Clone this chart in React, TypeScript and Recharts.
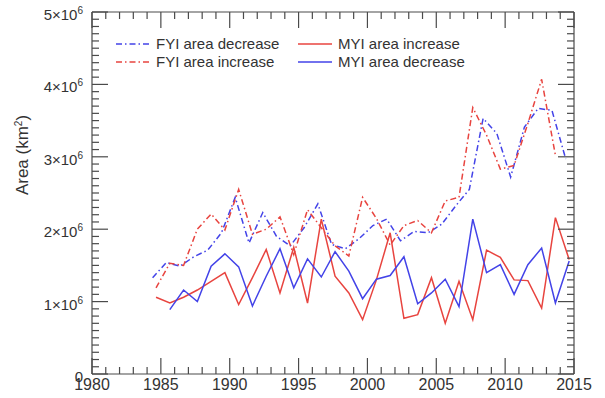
import React from 'react'
import { LineChart, Line, XAxis, YAxis } from 'recharts'

// seasons, one value per year (area in 10^6 km^2)
const years = [
  1984, 1985, 1986, 1987, 1988, 1989, 1990, 1991, 1992, 1993, 1994,
  1995, 1996, 1997, 1998, 1999, 2000, 2001, 2002, 2003, 2004, 2005,
  2006, 2007, 2008, 2009, 2010, 2011, 2012, 2013, 2014,
]

// 1984-2014
const fyiDecrease = [
  1.33, 1.54, 1.49, 1.62, 1.71, 1.95, 2.44, 1.81, 2.23, 1.9, 1.77,
  2.02, 2.35, 1.79, 1.73, 1.87, 2.05, 2.14, 1.84, 1.97, 1.95, 2.07,
  2.32, 2.55, 3.53, 3.32, 2.72, 3.41, 3.67, 3.64, 2.97,
]
// 1984-2013
const fyiIncrease = [
  1.19, 1.53, 1.5, 2.0, 2.21, 1.99, 2.55, 1.93, 2.0, 2.17, 1.65,
  2.27, 2.02, 1.77, 1.63, 2.44, 2.15, 1.78, 2.05, 2.12, 1.95, 2.39,
  2.44, 3.68, 3.3, 2.83, 2.88, 3.46, 4.07, 3.02,
]
// 1984-2014
const myiIncrease = [
  1.06, 0.98, 1.06, 1.16, 1.28, 1.4, 0.96, 1.33, 1.72, 1.12, 1.75,
  0.98, 2.14, 1.35, 1.12, 0.75, 1.3, 1.95, 0.77, 0.82, 1.33, 0.7,
  1.28, 0.75, 1.71, 1.61, 1.3, 1.29, 0.91, 2.16, 1.58,
]
// 1985-2014
const myiDecrease = [
  0.89, 1.16, 1.0, 1.49, 1.66, 1.48, 0.94, 1.35, 1.73, 1.19, 1.59,
  1.34, 1.69, 1.42, 1.04, 1.31, 1.36, 1.62, 0.97, 1.12, 1.31, 0.93,
  2.14, 1.4, 1.51, 1.1, 1.51, 1.74, 0.98, 1.56,
]

const xTicks = Array.from({ length: 36 }, (_, i) => 1980 + i)
const yTicks = Array.from({ length: 51 }, (_, i) => i / 10)

// where within the year each record sits
const FYI_DEC_SHIFT = 0.4
const SHIFT = 0.65

const RED = '#e8443f'
const BLUE = '#4343e8'
const AXIS = '#4a4a4a'
const TEXT = '#333'
const FONT = '"Liberation Sans", Arial, Helvetica, sans-serif'
const DASH_DOT = '6 3 1.5 3'
const MAJOR = 16
const MINOR = 7

const toPoints = (ys: number[], vals: number[]) =>
  vals.map((v, i) => ({ x: ys[i], v }))

const fyiDecData = toPoints(years.map((y) => y + FYI_DEC_SHIFT), fyiDecrease)
const fyiIncData = toPoints(years.map((y) => y + SHIFT), fyiIncrease)
const myiIncData = toPoints(years.map((y) => y + SHIFT), myiIncrease)
const myiDecData = toPoints(years.slice(1).map((y) => y + SHIFT), myiDecrease)

const isMajorY = (v: number) => Math.abs(v - Math.round(v)) < 1e-6

function BottomTick({ x, y, payload }: any) {
  const major = payload.value % 5 === 0
  return (
    <g>
      <line x1={x} x2={x} y1={y} y2={y - (major ? MAJOR : MINOR)} stroke={AXIS} strokeWidth={1.2} />
      {major && (
        <text x={x} y={y + 16} textAnchor="middle" fontSize={16} fill={TEXT} fontFamily={FONT}>
          {payload.value}
        </text>
      )}
    </g>
  )
}

function TopTick({ x, y, payload }: any) {
  const major = payload.value % 5 === 0
  return <line x1={x} x2={x} y1={y} y2={y + (major ? MAJOR : MINOR)} stroke={AXIS} strokeWidth={1.2} />
}

function LeftTick({ x, y, payload }: any) {
  const v = payload.value
  const major = isMajorY(v)
  return (
    <g>
      <line x1={x} x2={x + (major ? MAJOR : MINOR)} y1={y} y2={y} stroke={AXIS} strokeWidth={1.2} />
      {major && (
        <text x={x - 9} y={y + 8} textAnchor="end" fontSize={15} fill={TEXT} fontFamily={FONT}>
          {v === 0 ? (
            '0'
          ) : (
            <>
              <tspan>{`${Math.round(v)}×10`}</tspan>
              <tspan dy={-6} fontSize={10}>6</tspan>
            </>
          )}
        </text>
      )}
    </g>
  )
}

function RightTick({ x, y, payload }: any) {
  const major = isMajorY(payload.value)
  return <line x1={x} x2={x - (major ? MAJOR : MINOR)} y1={y} y2={y} stroke={AXIS} strokeWidth={1.2} />
}

const legendItems = [
  { label: 'FYI area decrease', color: BLUE, dash: DASH_DOT, col: 0, row: 0 },
  { label: 'FYI area increase', color: RED, dash: DASH_DOT, col: 0, row: 1 },
  { label: 'MYI area increase', color: RED, dash: undefined, col: 1, row: 0 },
  { label: 'MYI area decrease', color: BLUE, dash: undefined, col: 1, row: 1 },
]

export default function App() {
  return (
    <div style={{ position: 'absolute', left: 0, top: 0, width: 605, height: 398, background: '#fff' }}>
      <LineChart width={605} height={398} margin={{ top: 0, right: 0, bottom: 0, left: 0 }}>
        <XAxis
          xAxisId="b"
          type="number"
          dataKey="x"
          domain={[1980, 2015]}
          ticks={xTicks}
          interval={0}
          height={24}
          tickSize={0}
          tickMargin={0}
          tickLine={false}
          axisLine={{ stroke: AXIS, strokeWidth: 1.2 }}
          tick={<BottomTick />}
          allowDataOverflow
        />
        <XAxis
          xAxisId="t"
          orientation="top"
          type="number"
          dataKey="x"
          domain={[1980, 2015]}
          ticks={xTicks}
          interval={0}
          height={12}
          tickSize={0}
          tickMargin={0}
          tickLine={false}
          axisLine={{ stroke: AXIS, strokeWidth: 1.2 }}
          tick={<TopTick />}
          allowDataOverflow
        />
        <YAxis
          yAxisId="l"
          type="number"
          domain={[0, 5]}
          ticks={yTicks}
          interval={0}
          width={92}
          tickSize={0}
          tickMargin={0}
          tickLine={false}
          axisLine={{ stroke: AXIS, strokeWidth: 1.2 }}
          tick={<LeftTick />}
          allowDataOverflow
        />
        <YAxis
          yAxisId="r"
          orientation="right"
          type="number"
          domain={[0, 5]}
          ticks={yTicks}
          interval={0}
          width={31}
          tickSize={0}
          tickMargin={0}
          tickLine={false}
          axisLine={{ stroke: AXIS, strokeWidth: 1.2 }}
          tick={<RightTick />}
          allowDataOverflow
        />
        <Line data={fyiDecData} dataKey="v" xAxisId="b" yAxisId="l" type="linear" stroke={BLUE} strokeWidth={1.5} strokeDasharray={DASH_DOT} dot={false} isAnimationActive={false} />
        <Line data={fyiIncData} dataKey="v" xAxisId="b" yAxisId="l" type="linear" stroke={RED} strokeWidth={1.5} strokeDasharray={DASH_DOT} dot={false} isAnimationActive={false} />
        <Line data={myiIncData} dataKey="v" xAxisId="b" yAxisId="l" type="linear" stroke={RED} strokeWidth={1.5} dot={false} isAnimationActive={false} />
        <Line data={myiDecData} dataKey="v" xAxisId="b" yAxisId="l" type="linear" stroke={BLUE} strokeWidth={1.5} dot={false} isAnimationActive={false} />
      </LineChart>
      <svg width={605} height={398} style={{ position: 'absolute', left: 0, top: 0, pointerEvents: 'none' }}>
        <text
          transform="translate(28,155) rotate(-90)"
          textAnchor="middle"
          fontSize={17}
          fill={TEXT}
          fontFamily={FONT}
        >
          Area (km<tspan dy={-6} fontSize={10}>2</tspan><tspan dy={6}>)</tspan>
        </text>
        {legendItems.map((it) => {
          const x0 = it.col === 0 ? 116 : 298
          const y0 = it.row === 0 ? 44 : 62
          return (
            <g key={it.label}>
              <line x1={x0} x2={x0 + 34} y1={y0} y2={y0} stroke={it.color} strokeWidth={1.5} strokeDasharray={it.dash} />
              <text x={x0 + 40} y={y0 + 5} fontSize={15} fill={TEXT} fontFamily={FONT}>
                {it.label}
              </text>
            </g>
          )
        })}
      </svg>
    </div>
  )
}
